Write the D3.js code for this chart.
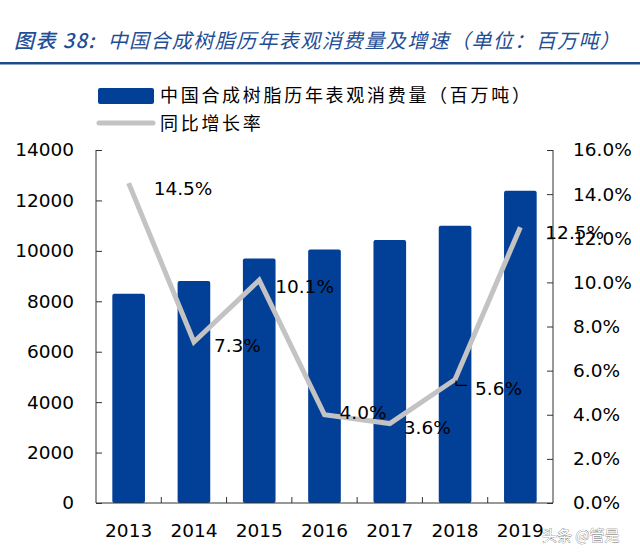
<!DOCTYPE html>
<html><head><meta charset="utf-8">
<script src="https://cdn.jsdelivr.net/npm/d3@7"></script>
<style>body{margin:0;background:#fff}svg{display:block}</style>
</head><body><div id="chart"></div>
<script>
const years = ["2013","2014","2015","2016","2017","2018","2019"];
const consumption = [8300, 8800, 9700, 10050, 10430, 11000, 12380];
const growth = [14.5, 7.3, 10.1, 4.0, 3.6, 5.6, 12.5];
const growthLabels = ["14.5%","7.3%","10.1%","4.0%","3.6%","5.6%","12.5%"];
const leftTicks = [0,2000,4000,6000,8000,10000,12000,14000];
const rightTicks = [0,2,4,6,8,10,12,14,16];
const titleText = "中国合成树脂历年表观消费量及增速（单位：百万吨）";
const legendBar = "中国合成树脂历年表观消费量（百万吨）";
const legendLine = "同比增长率";

const W = 640, H = 560;
const m = {l:96, r:553, t:150, b:503};
const svg = d3.select("#chart").append("svg").attr("width",W).attr("height",H);
const blue = "#023f96", gray = "#c3c3c3";
const numFont = "DejaVu Sans, Verdana, sans-serif";
const cjk = "Noto Sans CJK SC, sans-serif";

// title
const t = svg.append("text").attr("x",14).attr("y",48).attr("fill","#1f4e96")
  .attr("font-family",cjk).attr("font-size",20).attr("font-style","italic").attr("letter-spacing",1.4);
t.append("tspan").attr("font-weight","500").text("图表 38:");
t.append("tspan").attr("dx",12).attr("font-weight","normal").text(titleText);
svg.append("rect").attr("x",0).attr("y",62).attr("width",W).attr("height",2.5).attr("fill","#1f4a8a");

const x = d3.scaleBand().domain(years).range([m.l,m.r]).paddingInner(0.5).paddingOuter(0.25);
const xb = d3.scaleBand().domain(years).range([m.l,m.r]);
const yL = d3.scaleLinear().domain([0,14000]).range([m.b,m.t]);
const yR = d3.scaleLinear().domain([0,16]).range([m.b,m.t]);

// bars
svg.append("g").selectAll("rect").data(years).join("rect")
  .attr("x",d=>x(d)).attr("width",x.bandwidth())
  .attr("y",(d,i)=>yL(consumption[i])).attr("height",(d,i)=>m.b-yL(consumption[i]))
  .attr("rx",2).attr("fill",blue);

// axes
const axL = svg.append("g").attr("transform",`translate(${m.l},0)`)
  .call(d3.axisLeft(yL).tickValues(leftTicks).tickSize(-6).tickPadding(22).tickFormat(d3.format("d")));
const axR = svg.append("g").attr("transform",`translate(${m.r},0)`)
  .call(d3.axisRight(yR).tickValues(rightTicks).tickSize(-6).tickPadding(20).tickFormat(d=>d.toFixed(1)+"%"));
const axB = svg.append("g").attr("transform",`translate(0,${m.b})`)
  .call(d3.axisBottom(xb).tickSize(0).tickPadding(21));
svg.append("g").selectAll("line").data(years.slice(1)).join("line")
  .attr("x1",d=>xb(d)).attr("x2",d=>xb(d)).attr("y1",m.b).attr("y2",m.b-6)
  .attr("stroke","#333").attr("stroke-width",1);
[axL,axR,axB].forEach(a=>{
  a.selectAll(".domain").attr("stroke","#333");
  a.selectAll(".tick line").attr("stroke","#333");
  a.selectAll("text").attr("font-family",numFont).attr("font-size",18.5).attr("fill","#000");
});
axL.select(".domain").attr("d",`M0,${m.t}H0V${m.b}H0`);
axR.select(".domain").attr("d",`M0,${m.t}H0V${m.b}H0`);
axB.select(".domain").attr("d",`M${m.l},0H${m.r}`);

// line
const lineGen = d3.line().x((d,i)=>xb(years[i])+xb.bandwidth()/2).y(d=>yR(d));
svg.append("path").datum(growth).attr("d",lineGen).attr("fill","none")
  .attr("stroke",gray).attr("stroke-width",5).attr("stroke-linejoin","miter");

// labels
const off = [[25,12],[20,10],[16,13],[15,4],[14,10],[20,16],[25,12]];
svg.append("g").selectAll("text").data(growth).join("text")
  .attr("x",(d,i)=>xb(years[i])+xb.bandwidth()/2+off[i][0])
  .attr("y",(d,i)=>yR(d)+off[i][1])
  .attr("font-family",numFont).attr("font-size",18.5).attr("fill","#000")
  .text((d,i)=>growthLabels[i]);
const lx = xb("2018")+xb.bandwidth()/2;
svg.append("path").attr("d",`M${lx+1},${yR(5.6)+1}V${yR(5.6)+6}H${lx+12}`)
  .attr("fill","none").attr("stroke","#000").attr("stroke-width",1.2);

// legend
svg.append("rect").attr("x",98).attr("y",88).attr("width",56).attr("height",16).attr("rx",2).attr("fill",blue);
svg.append("line").attr("x1",99).attr("x2",153).attr("y1",123).attr("y2",123)
  .attr("stroke",gray).attr("stroke-width",5).attr("stroke-linecap","round");
svg.append("text").attr("x",160).attr("y",102).attr("font-family",cjk).attr("font-size",18)
  .attr("letter-spacing",2.7).attr("fill","#000").text(legendBar);
svg.append("text").attr("x",160).attr("y",130).attr("font-family",cjk).attr("font-size",18)
  .attr("letter-spacing",2.7).attr("fill","#000").text(legendLine);

// watermark
svg.append("text").attr("x",542).attr("y",541).attr("font-family",cjk).attr("font-size",15)
  .attr("fill","#fff").attr("stroke","#666").attr("stroke-width",0.6).attr("paint-order","stroke").text("头条 @管是");
</script></body></html>
